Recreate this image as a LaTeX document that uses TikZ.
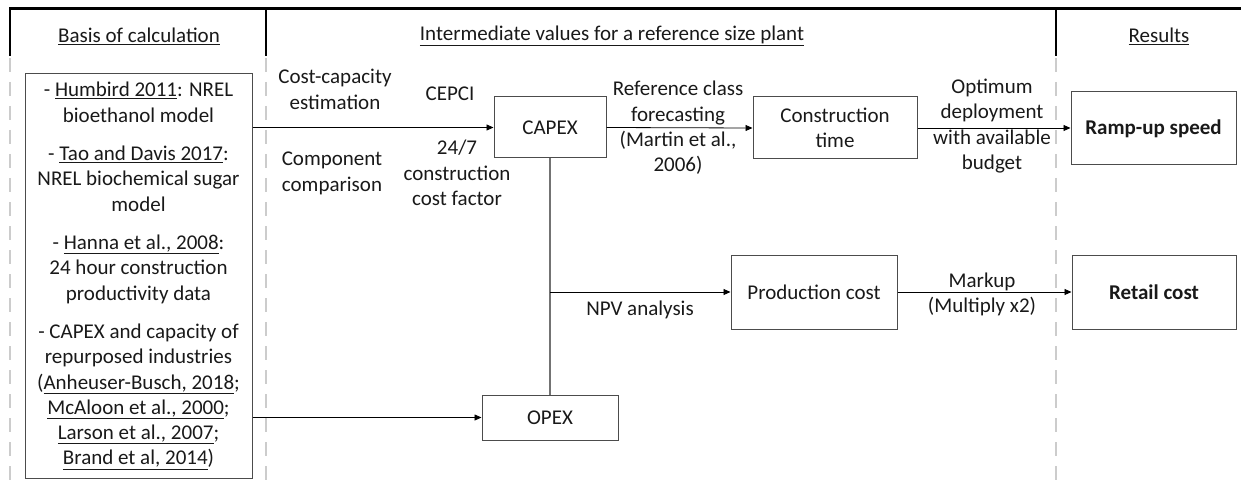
\documentclass[tikz,border=0pt]{standalone}
\usepackage{fontspec}
\setmainfont{Carlito}
\usetikzlibrary{arrows.meta}
\begin{document}
\begin{tikzpicture}[x=1pt,y=-1pt,
  every node/.style={font=\fontsize{21}{25.3}\selectfont, inner sep=0pt, text=black!90},
  box/.style={draw=black!70, line width=1pt, align=center},
  lbl/.style={align=center},
  sep/.style={draw=black, line width=2pt},
  dsep/.style={draw=black!20, line width=2pt, dash pattern=on 14pt off 10pt},
  arr/.style={draw=black, line width=0.8pt, -{Triangle[length=7pt,width=6pt]}},
  trunk/.style={draw=black!55, line width=1.6pt}]
\useasboundingbox (0,0) rectangle (1241,489);
% header frame
\draw[draw=black, line width=3pt] (9,9) -- (1241,9);
\draw[sep] (10,9) -- (10,56);
\draw[sep] (266,9) -- (266,56);
\draw[sep] (1056,9) -- (1056,56);
\draw[dsep] (10,58) -- (10,489);
\draw[dsep] (266,58) -- (266,489);
\draw[dsep] (1056,58) -- (1056,489);
% headers
\node (h1) at (139,36) {\underline{Basis of calculation}};
\node (h2) at (612,36) {\underline{Intermediate values for a reference size plant}};
\node (h3) at (1159,36) {\underline{Results}};
% left box
\node[box, minimum width=227pt, minimum height=404pt] (basis) at (138.5,276) {%
- \underline{Humbird 2011}: NREL\\ bioethanol model\\[13pt]
- \underline{Tao and Davis 2017}:\\ NREL biochemical sugar\\ model\\[13pt]
- \underline{Hanna et al., 2008}:\\ 24 hour construction\\ productivity data\\[13pt]
- CAPEX and capacity of\\ repurposed industries\\ (\underline{Anheuser-Busch, 2018};\\ \underline{McAloon et al., 2000};\\ \underline{Larson et al., 2007};\\ \underline{Brand et al, 2014})};
% boxes
\node[box, minimum width=112pt, minimum height=61pt] (capex) at (550,127.5) {CAPEX};
\node[box, minimum width=164pt, minimum height=62pt] (ctime) at (835,128) {Construction\\time};
\node[box, minimum width=165pt, minimum height=73pt] (ramp) at (1153.5,128.5) {\textbf{Ramp-up speed}};
\node[box, minimum width=166pt, minimum height=74pt] (prod) at (814,292) {Production cost};
\node[box, minimum width=164pt, minimum height=74pt] (retail) at (1154,292) {\textbf{Retail cost}};
\node[box, minimum width=136pt, minimum height=45pt] (opex) at (550,417.5) {OPEX};
% labels
\node[lbl] (l1) at (335,89.5) {Cost-capacity\\estimation};
\node[lbl] (l2) at (450,94) {CEPCI};
\node[lbl] (l3) at (332,173.5) {Component\\comparison};
\node[lbl] (l4) at (457,173) {24/7\\construction\\cost factor};
\node[lbl] (l5) at (678,128) {Reference class\\forecasting\\(Martin et al.,\\2006)};
\node[lbl] (l6) at (992,126) {Optimum\\deployment\\with available\\budget};
\node[lbl] (l7) at (640,310) {NPV analysis};
\node[lbl] (l8) at (982,294.5) {Markup\\(Multiply x2)};
% connectors
\draw[arr] (basis.east |- capex.west) -- (capex.west);
\draw[arr] (basis.east |- opex.west) -- (opex.west);
\draw[arr] (capex.east) -- (ctime.west);
\draw[arr] (ctime.east) -- (ramp.west |- ctime.east);
\draw[trunk] (capex.south) -- (opex.north);
\coordinate (br) at (capex.south |- prod.west);
\draw[arr] (br) -- (prod.west);
\draw[arr] (prod.east) -- (retail.west);
\end{tikzpicture}
\end{document}
